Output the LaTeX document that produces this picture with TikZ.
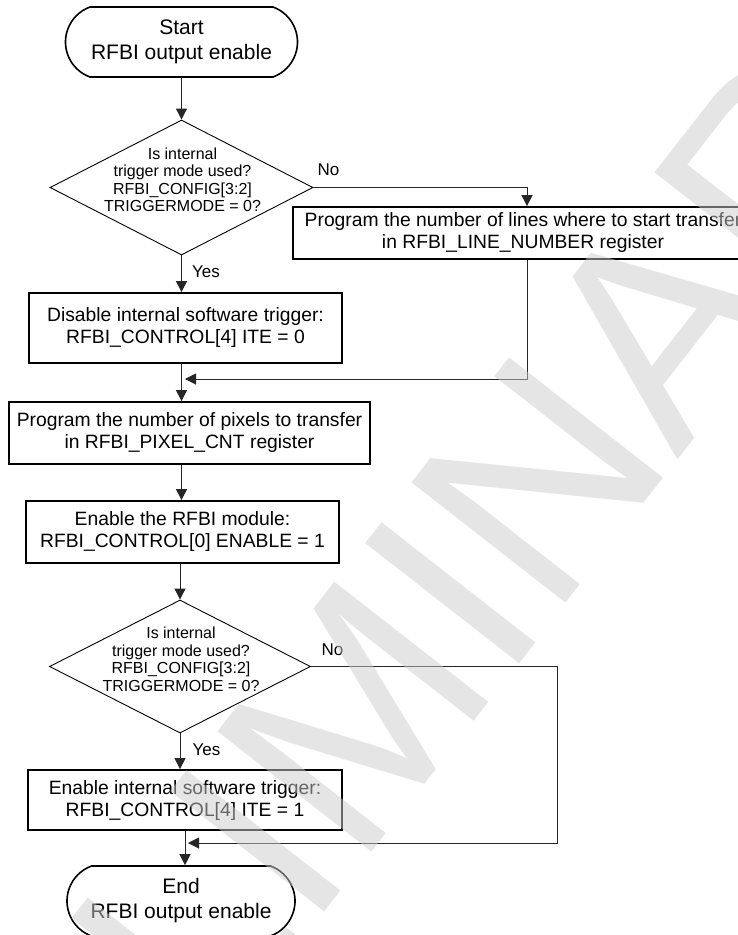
\documentclass[tikz,border=0pt]{standalone}
\usepackage{fontspec}
\setmainfont{Liberation Sans}
\usetikzlibrary{shapes.geometric,shapes.misc,arrows.meta,calc}
\begin{document}
\begin{tikzpicture}[x=1pt,y=1pt,
  terminal/.style={rounded rectangle, rounded rectangle arc length=140, draw, line width=1.6pt,
    inner sep=0pt, align=center, font=\fontsize{21}{25}\selectfont},
  procbox/.style={draw, line width=1.8pt, inner sep=0pt, align=center,
    font=\fontsize{19.3}{22}\selectfont},
  decision/.style={diamond, draw, line width=0.9pt, inner sep=0pt, aspect=1.95},
  dtext/.style={align=center, inner sep=0pt, font=\fontsize{16}{17.5}\selectfont},
  lbl/.style={inner sep=0pt, font=\fontsize{17}{17}\selectfont},
  conn/.style={line width=1pt, draw=black!85},
  arr/.style={conn, -{Triangle[length=11pt,width=11pt]}},
  wmark/.style={inner sep=0pt, text=black!20, text opacity=0.5,
    font=\fontsize{284}{284}\selectfont}
]
\useasboundingbox (0,0) rectangle (738,-935);
\fill[white] (0,0) rectangle (738,-935);

% nodes
\node[terminal, minimum width=232, minimum height=70] (start) at (181.5,-42) {Start\\RFBI output enable};
\node[decision, minimum width=263, minimum height=135] (d1) at (181.5,-187.5) {};
\node[dtext] (d1t) at (182.5,-180) {Is internal\\trigger mode used?\\RFBI\_CONFIG[3:2]\\TRIGGERMODE = 0?};
\node[procbox, minimum width=460, minimum height=52] (blines) at (523,-233)
  {Program the number of lines where to start transfer\\in RFBI\_LINE\_NUMBER register};
\node[procbox, minimum width=313, minimum height=70] (disable) at (185.5,-328)
  {Disable internal software trigger:\\RFBI\_CONTROL[4] ITE = 0};
\node[procbox, minimum width=361, minimum height=62] (pixels) at (189.5,-433)
  {Program the number of pixels to transfer\\in RFBI\_PIXEL\_CNT register};
\node[procbox, minimum width=313, minimum height=62] (enmod) at (182.5,-532)
  {Enable the RFBI module:\\RFBI\_CONTROL[0] ENABLE = 1};
\node[decision, minimum width=261, minimum height=133] (d2) at (180,-666.5) {};
\node[dtext] (d2t) at (181,-659.5) {Is internal\\trigger mode used?\\RFBI\_CONFIG[3:2]\\TRIGGERMODE = 0?};
\node[procbox, minimum width=314, minimum height=60] (enint) at (185,-800)
  {Enable internal software trigger:\\RFBI\_CONTROL[4] ITE = 1};
\node[terminal, minimum width=228, minimum height=70] (endn) at (181,-901) {End\\RFBI output enable};

% labels
\node[lbl] (no1) at (328.5,-170) {No};
\node[lbl] (yes1) at (206,-272) {Yes};
\node[lbl] (no2) at (332.5,-650) {No};
\node[lbl] (yes2) at (206.5,-750) {Yes};

% helper coordinates
\coordinate (xr1) at ([xshift=4pt]blines.north);
\coordinate (xr1b) at ([xshift=4pt]blines.south);
\coordinate (m1) at (185,-379);
\coordinate (xr2) at (557,-843);
\coordinate (m2) at (188,-843);

% connectors
\draw[arr] (start.south) -- (start.south |- d1.north);
\draw[arr] (d1.south) -- (d1.south |- disable.north);
\draw[arr] (d1.east) -| (xr1);
\draw[arr] (xr1b) |- (m1);
\draw[arr] (d1.south |- disable.south) -- (d1.south |- pixels.north);
\draw[arr] (d1.south |- pixels.south) -- (d1.south |- enmod.north);
\draw[arr] (d2.north |- enmod.south) -- (d2.north);
\draw[arr] (d2.south) -- (d2.south |- enint.north);
\draw[arr] (d2.east) -| (xr2) -- (m2);
\draw[arr] (enint.south) -- (enint.south |- endn.north);

% watermark
\node[wmark, anchor=base west, rotate=52] (wm) at (-148,-1517.5) {PRELIMINARY};
\end{tikzpicture}
\end{document}
